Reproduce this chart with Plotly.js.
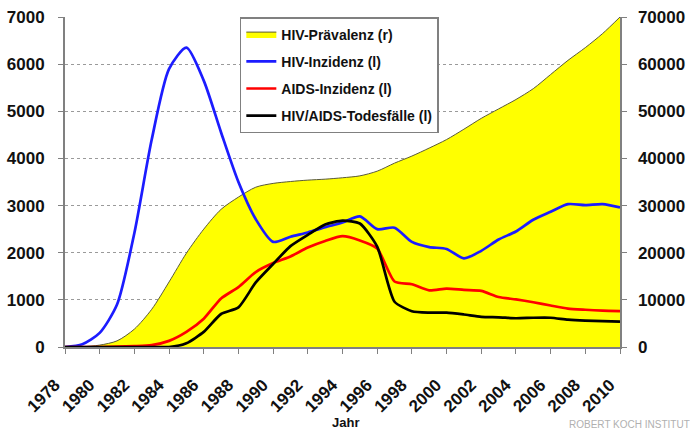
<!DOCTYPE html>
<html>
<head>
<meta charset="utf-8">
<script src="https://cdn.plot.ly/plotly-3.0.1.min.js"></script>
<style>html,body{margin:0;padding:0;background:#fff;}#chart{width:690px;height:429px;}</style>
</head>
<body>
<div id="chart"></div>
<script>
const years = [1978,1979,1980,1981,1982,1983,1984,1985,1986,1987,1988,1989,1990,1991,1992,1993,1994,1995,1996,1997,1998,1999,2000,2001,2002,2003,2004,2005,2006,2007,2008,2009,2010];
const hivPraevalenz = [0,50,400,1300,3800,8000,13800,19900,25000,29200,31800,33900,34700,35100,35400,35600,35900,36300,37300,39000,40500,42200,44000,46200,48500,50500,52500,54800,57800,60800,63500,66500,70000];
const hivInzidenz = [0,60,300,900,2420,4400,5900,6350,5650,4550,3500,2710,2230,2340,2430,2540,2640,2770,2500,2530,2230,2120,2080,1880,2040,2280,2450,2700,2870,3030,3010,3030,2960];
const aidsInzidenz = [0,0,0,10,20,40,130,320,600,1030,1270,1590,1780,1920,2110,2250,2350,2260,2090,1390,1330,1200,1240,1210,1190,1060,1010,950,880,815,790,770,760];
const todesfaelle = [0,0,0,0,0,0,0,80,320,700,840,1370,1760,2140,2380,2600,2680,2620,2130,960,760,730,730,690,640,630,610,620,620,580,560,550,540];
const seriesNames = ['HIV-Prävalenz (r)','HIV-Inzidenz (l)','AIDS-Inzidenz (l)','HIV/AIDS-Todesfälle (l)'];
const xTicks = [1978,1980,1982,1984,1986,1988,1990,1992,1994,1996,1998,2000,2002,2004,2006,2008,2010];
const xTitle = 'Jahr';
const watermark = 'ROBERT KOCH INSTITUT';

const F = 'Liberation Sans, Arial, sans-serif';
const traces = [
  {x: years, y: hivPraevalenz, name: seriesNames[0], type: 'scatter', mode: 'lines', yaxis: 'y',
   fill: 'tozeroy', fillcolor: '#FFFF00', line: {color: '#5a5a3a', width: 1, shape: 'spline', smoothing: 0.8}, legendgroup: 'a'},
  {x: years, y: hivInzidenz, name: seriesNames[1], type: 'scatter', mode: 'lines', yaxis: 'y2',
   line: {color: '#1c1cff', width: 2.7, shape: 'spline', smoothing: 0.7}, legendgroup: 'b'},
  {x: years, y: aidsInzidenz, name: seriesNames[2], type: 'scatter', mode: 'lines', yaxis: 'y2',
   line: {color: '#ff0000', width: 2.7, shape: 'spline', smoothing: 0.6}, legendgroup: 'c'},
  {x: years, y: todesfaelle, name: seriesNames[3], type: 'scatter', mode: 'lines', yaxis: 'y2',
   line: {color: '#000000', width: 2.7, shape: 'spline', smoothing: 0.6}, legendgroup: 'd'}
];

const tickFont = {family: F, size: 17, color: '#111', weight: 'bold'};
const layout = {
  width: 690, height: 429,
  margin: {l: 65, r: 70, t: 17, b: 82},
  paper_bgcolor: '#ffffff', plot_bgcolor: 'rgba(0,0,0,0)',
  showlegend: true,
  legend: {x: 0.315, y: 1, xanchor: 'left', yanchor: 'top', bgcolor: '#ffffff',
    bordercolor: '#808080', borderwidth: 1.5, tracegroupgap: 6, itemwidth: 30,
    font: {family: F, size: 14, color: '#111', weight: 'bold'}},
  xaxis: {range: [1978, 2010], tickvals: xTicks, ticktext: xTicks.map(String), tickangle: -45,
    tickfont: tickFont, ticks: 'outside', ticklen: 5, tickcolor: '#808080', ticklabelstandoff: 15, ticklabelshift: -10,
    showline: true, linecolor: '#808080', linewidth: 1.5, showgrid: false, zeroline: false},
  yaxis: {range: [0, 70000], side: 'right', dtick: 10000, tickfont: tickFont, ticks: 'outside', ticklen: 5,
    tickcolor: '#808080', ticklabelstandoff: 8, showline: true, linecolor: '#808080', linewidth: 1.5,
    showgrid: false, zeroline: false, tickformat: 'd'},
  yaxis2: {range: [0, 7000], side: 'left', overlaying: 'y', dtick: 1000, tickfont: tickFont, ticks: 'outside',
    ticklen: 5, tickcolor: '#808080', ticklabelstandoff: 10, showline: true, linecolor: '#808080', linewidth: 2,
    showgrid: true, gridcolor: '#9a9a9a', griddash: 'dot', gridwidth: 1, zeroline: false, tickformat: 'd'},
  annotations: [
    {xref: 'paper', yref: 'paper', x: 0.505, y: -0.228, xanchor: 'center', yanchor: 'middle',
     text: xTitle, showarrow: false, font: {family: F, size: 13, color: '#111', weight: 'bold'}},
    {xref: 'paper', yref: 'paper', x: (567-65)/555, y: -0.235, xanchor: 'left', yanchor: 'middle',
     text: watermark, showarrow: false, font: {family: F, size: 10, color: '#b0b0b0'}}]
};

Plotly.newPlot('chart', traces, layout, {displayModeBar: false, staticPlot: true});
</script>
</body>
</html>
